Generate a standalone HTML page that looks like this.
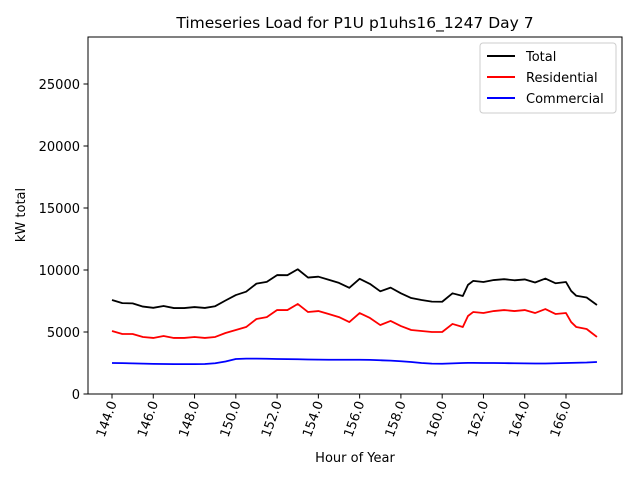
<!DOCTYPE html>
<html><head><meta charset="utf-8"><style>
html,body{margin:0;padding:0;background:#fff;}
svg{display:block;font-family:"DejaVu Sans","Liberation Sans",sans-serif;}
</style></head><body>
<svg id="chart" width="640" height="480" viewBox="0 0 640 480">
<rect x="0" y="0" width="640" height="480" fill="#fff"/>
<text x="355" y="28" font-size="15.5" text-anchor="middle">Timeseries Load for P1U p1uhs16_1247  Day 7</text>
<g id="plot"></g>
<rect x="88" y="37" width="534" height="357" fill="none" stroke="#000" stroke-width="1"/>
<text x="355" y="462" font-size="13" text-anchor="middle">Hour of Year</text>
<text x="0" y="0" font-size="13" text-anchor="middle" transform="translate(25,215) rotate(-90)">kW total</text>
<g>
<rect x="480" y="43" width="136" height="70" fill="#fff" stroke="#ccc" rx="3"/>
<line x1="487" y1="56" x2="515" y2="56" stroke="#000" stroke-width="2"/>
<text x="526" y="61" font-size="13">Total</text>
<line x1="487" y1="77" x2="515" y2="77" stroke="#f00" stroke-width="2"/>
<text x="526" y="82" font-size="13">Residential</text>
<line x1="487" y1="98" x2="515" y2="98" stroke="#00f" stroke-width="2"/>
<text x="526" y="103" font-size="13">Commercial</text>
</g>
</svg>
<script>
const hours=[144,144.5,145,145.5,146,146.5,147,147.5,148,148.5,149,149.5,150,150.5,151,151.5,152,152.5,153,153.5,154,154.5,155,155.5,156,156.5,157,157.5,158,158.5,159,159.5,160,160.5,161,161.25,161.5,162,162.5,163,163.5,164,164.5,165,165.5,166,166.25,166.5,167,167.25,167.5];
const residential=[5080,4840,4840,4600,4520,4680,4520,4520,4600,4520,4600,4920,5160,5400,6050,6200,6770,6770,7260,6610,6690,6450,6200,5800,6530,6130,5560,5890,5480,5160,5080,5000,5000,5650,5400,6290,6610,6530,6690,6770,6690,6770,6530,6850,6450,6530,5800,5400,5240,4920,4600];
const commercial=[2500,2490,2470,2450,2430,2420,2410,2410,2410,2420,2480,2620,2820,2850,2850,2840,2820,2810,2800,2780,2770,2760,2760,2760,2760,2750,2720,2690,2640,2580,2500,2450,2440,2470,2500,2510,2510,2500,2500,2490,2480,2470,2460,2460,2480,2500,2510,2520,2540,2560,2580];
const xTicks=[144,146,148,150,152,154,156,158,160,162,164,166];
const yTicks=[0,5000,10000,15000,20000,25000];
const total=residential.map((r,i)=>r+commercial[i]);
const NS="http://www.w3.org/2000/svg";
const plot=document.getElementById('plot');
const xS=h=>112+(h-144)*(454/22);
const yS=v=>394-v*(62/5000);
function mk(tag,attrs){const e=document.createElementNS(NS,tag);for(const k in attrs)e.setAttribute(k,attrs[k]);return e;}
xTicks.forEach(t=>{
  const x=xS(t);
  const l=mk('line',{x1:x,y1:394,x2:x,y2:398.5,stroke:'#000'});
  
  
  plot.appendChild(l);
  const tx=mk('text',{x:0,y:0,'font-size':13,'text-anchor':'end',transform:`translate(${x+5},403) rotate(-70)`});
  tx.textContent=t.toFixed(1);
  
  
  plot.appendChild(tx);
});
yTicks.forEach(t=>{
  const y=yS(t);
  const l=mk('line',{x1:83.5,y1:y,x2:88,y2:y,stroke:'#000'});
  
  
  plot.appendChild(l);
  const tx=mk('text',{x:80,y:y+5,'font-size':13,'text-anchor':'end'});
  tx.textContent=String(t);
  
  
  plot.appendChild(tx);
});
function line(vals,color,name){
  const p=mk('polyline',{points:vals.map((v,i)=>xS(hours[i])+','+yS(v)).join(' '),fill:'none',stroke:color,'stroke-width':1.8,'stroke-linejoin':'round'});
  
  
  plot.appendChild(p);
}
line(total,'#000','total-line');
line(residential,'#f00','residential-line');
line(commercial,'#00f','commercial-line');
</script>
</body></html>
